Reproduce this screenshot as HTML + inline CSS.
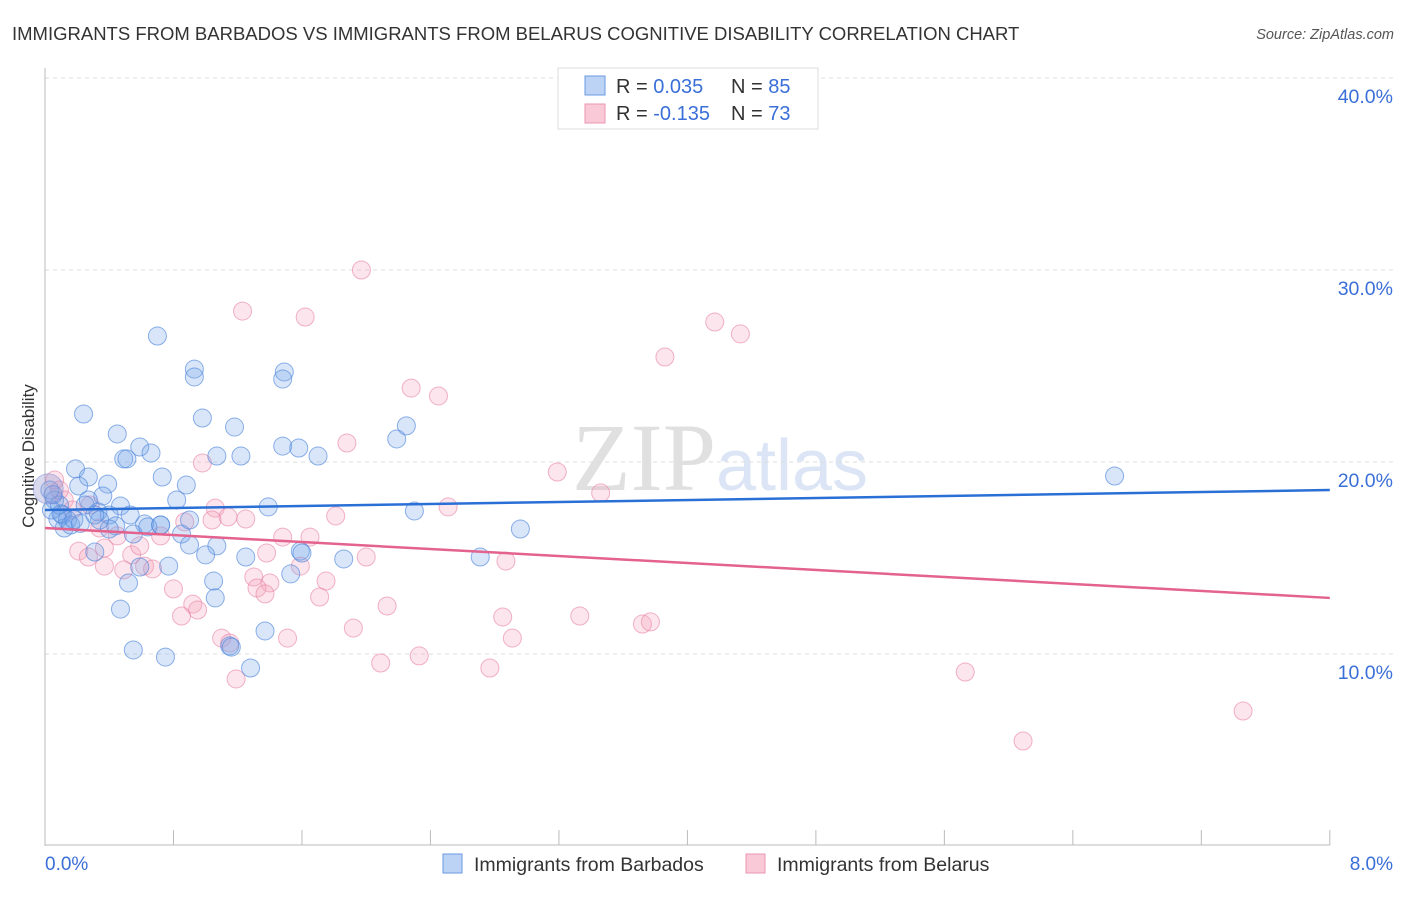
<!DOCTYPE html>
<html><head><meta charset="utf-8"><style>
body{margin:0;background:#fff;font-family:"Liberation Sans",sans-serif}
svg text{font-family:"Liberation Sans",sans-serif}
</style></head><body>
<svg id="c" width="1406" height="892">
<text x="12" y="40" font-size="18.5" fill="#333">IMMIGRANTS FROM BARBADOS VS IMMIGRANTS FROM BELARUS COGNITIVE DISABILITY CORRELATION CHART</text>
<text x="1394" y="39" font-size="14.5" font-style="italic" fill="#555" text-anchor="end">Source: ZipAtlas.com</text>
<text x="34" y="456" font-size="17" fill="#333" text-anchor="middle" transform="rotate(-90 34 456)">Cognitive Disability</text>
<text x="720" y="490" font-size="96" fill="#e6e6e6" text-anchor="middle" font-family="Liberation Serif"><tspan font-family="Liberation Serif" fill="#e0e0e0">ZIP</tspan><tspan font-size="72" fill="#dbe5f5">atlas</tspan></text>
<g id="grid"></g><g id="axes"></g><g id="pts"></g><g id="lines"></g>
<g>
<rect x="558" y="68" width="260" height="61" fill="#fff" stroke="#ddd"/>
<rect x="585" y="76" width="20" height="19" fill="#bcd3f5" stroke="#6a9ae2"/>
<rect x="585" y="104" width="20" height="19" fill="#f9c9d8" stroke="#ea96b2"/>
<text x="616" y="93" font-size="20" fill="#333">R = <tspan fill="#3a6fd8"> 0.035</tspan><tspan x="731">N = </tspan><tspan fill="#3a6fd8">85</tspan></text>
<text x="616" y="120" font-size="20" fill="#333">R = <tspan fill="#3a6fd8">-0.135</tspan><tspan x="731">N = </tspan><tspan fill="#3a6fd8">73</tspan></text>
</g>
<g>
<rect x="443" y="854" width="19" height="19" fill="#bcd3f5" stroke="#6a9ae2"/>
<text x="474" y="871" font-size="19.5" fill="#333">Immigrants from Barbados</text>
<rect x="746" y="854" width="19" height="19" fill="#f9c9d8" stroke="#ea96b2"/>
<text x="777" y="871" font-size="19.5" fill="#333">Immigrants from Belarus</text>
</g>
</svg>
<script>
const yTicks=[10,20,30,40];
const yTickLabels=["10.0%","20.0%","30.0%","40.0%"];
const xTickLabels=["0.0%","8.0%"];
const barbados=[[0.70,26.56],[0.93,24.84],[0.93,24.43],[1.49,24.69],[1.48,24.32],[0.24,22.5],[0.98,22.29],[1.18,21.82],[0.45,21.46],[2.25,21.88],[2.19,21.2],[0.59,20.78],[1.48,20.83],[1.58,20.73],[0.66,20.47],[0.49,20.16],[0.51,20.16],[1.07,20.31],[1.22,20.31],[1.70,20.31],[0.19,19.64],[0.27,19.22],[0.73,19.22],[0.88,18.8],[0.39,18.85],[0.21,18.75],[0.36,18.23],[0.82,18.02],[0.27,18.02],[0.47,17.71],[1.39,17.66],[2.30,17.45],[0.33,17.4],[0.40,17.24],[0.11,17.24],[0.62,16.77],[0.72,16.72],[0.44,16.67],[0.55,16.25],[0.85,16.25],[2.96,16.51],[0.12,16.56],[0.08,17.03],[0.90,15.68],[1.07,15.63],[1.59,15.36],[1.60,15.26],[0.31,15.31],[1.00,15.16],[1.25,15.05],[1.86,14.95],[2.71,15.05],[0.59,14.53],[0.77,14.58],[0.52,13.7],[1.05,13.8],[1.53,14.17],[1.06,12.92],[0.47,12.34],[1.37,11.2],[0.55,10.21],[0.75,9.84],[1.15,10.42],[1.16,10.36],[1.28,9.27],[6.66,19.27],[0.03,18.54],[0.06,18.02],[0.09,17.76],[0.14,16.98],[0.04,17.5],[0.16,16.72],[0.25,17.76],[0.34,16.98],[0.40,16.51],[0.64,16.62],[0.90,16.98],[0.31,17.24],[0.53,17.24],[0.72,16.72],[0.05,18.3],[0.10,17.3],[0.18,17.0],[0.22,16.8]];
const belarus=[[1.97,30.0],[1.23,27.86],[1.62,27.55],[4.17,27.29],[4.33,26.67],[3.86,25.47],[2.28,23.85],[2.45,23.44],[1.88,20.99],[3.19,19.48],[3.46,18.39],[0.98,19.95],[2.51,17.66],[1.06,17.6],[1.14,17.14],[1.25,17.03],[1.04,16.98],[0.87,16.88],[1.81,17.19],[1.48,16.09],[1.65,16.09],[1.38,15.26],[2.00,15.05],[2.87,14.84],[0.21,15.36],[0.27,15.05],[0.37,15.52],[0.54,15.16],[0.59,15.63],[0.72,16.15],[0.45,16.15],[0.37,14.58],[0.62,14.58],[0.67,14.43],[0.49,14.38],[1.30,14.01],[1.59,14.58],[1.40,13.7],[1.32,13.44],[1.37,13.13],[1.75,13.8],[1.71,12.97],[0.80,13.39],[0.92,12.6],[0.95,12.29],[0.85,11.98],[2.13,12.5],[2.85,11.93],[3.33,11.98],[3.72,11.56],[3.77,11.67],[1.92,11.35],[2.91,10.83],[1.10,10.83],[1.15,10.57],[1.51,10.83],[2.09,9.53],[2.33,9.9],[2.77,9.27],[1.19,8.7],[5.73,9.06],[7.46,7.03],[6.09,5.47],[0.09,18.54],[0.06,19.06],[0.12,18.02],[0.17,17.5],[0.34,16.56],[0.28,17.76]];
const barbadosTrend=[17.5,18.54];
const belarusTrend=[16.56,12.92];
const NS="http://www.w3.org/2000/svg";
const X=v=>45+v*160.6, Y=v=>846-v*19.2;
function mk(p,t,a){const e=document.createElementNS(NS,t);for(const k in a)e.setAttribute(k,a[k]);p.appendChild(e);return e;}
const grid=document.getElementById('grid'),axes=document.getElementById('axes'),pts=document.getElementById('pts'),lines=document.getElementById('lines');
yTicks.forEach((t,i)=>{
 const g=mk(grid,'line',{x1:45,x2:1393,y1:Y(t),y2:Y(t),stroke:'#ddd','stroke-dasharray':'4,4'});
 
 
 const l=mk(axes,'text',{x:1393,y:Y(t)+25,'font-size':19.5,fill:'#3a6fd8','text-anchor':'end'});l.textContent=yTickLabels[i];
 
 
});
const ya=mk(axes,'line',{x1:45,x2:45,y1:68,y2:846,stroke:'#bbb'});


const xa=mk(axes,'line',{x1:45,x2:1330,y1:845,y2:845,stroke:'#bbb'});


for(let i=0;i<=10;i++){const tk=mk(axes,'line',{x1:X(i*0.8),x2:X(i*0.8),y1:830,y2:845,stroke:'#bbb'});
 
 }
const xl0=mk(axes,'text',{x:45,y:870,'font-size':19,fill:'#3a6fd8'});xl0.textContent=xTickLabels[0];


const xl1=mk(axes,'text',{x:1393,y:870,'font-size':19,fill:'#3a6fd8','text-anchor':'end'});xl1.textContent=xTickLabels[1];


function draw(data,fill,stroke,name){data.forEach(d=>{const c=mk(pts,'circle',{cx:X(d[0]),cy:Y(d[1]),r:9,fill:fill,stroke:stroke,'stroke-width':1});
 
 });}
draw(belarus,'rgba(244,160,188,0.28)','rgba(232,130,165,0.6)','point-belarus');
draw(barbados,'rgba(120,165,235,0.28)','rgba(80,135,220,0.65)','point-barbados');
const big=mk(pts,'circle',{cx:X(0.02),cy:Y(18.6),r:15,fill:'rgba(150,150,210,0.35)',stroke:'rgba(120,140,220,0.5)'});


const bl=mk(lines,'line',{x1:X(0),x2:X(8),y1:Y(barbadosTrend[0]),y2:Y(barbadosTrend[1]),stroke:'#2a6fd6','stroke-width':2.5});


const pl=mk(lines,'line',{x1:X(0),x2:X(8),y1:Y(belarusTrend[0]),y2:Y(belarusTrend[1]),stroke:'#e4628e','stroke-width':2.5});


</script>
</body></html>
